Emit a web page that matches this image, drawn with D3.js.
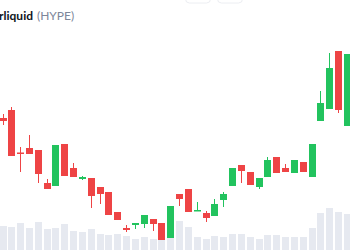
<!DOCTYPE html>
<html>
<head>
<meta charset="utf-8">
<script src="https://cdn.jsdelivr.net/npm/d3@7"></script>
<style>
  html, body { margin: 0; padding: 0; background: #fff; }
  svg { display: block; }
</style>
</head>
<body>
<svg id="chart" width="350" height="250"></svg>
<script>
const days = ["D01","D02","D03","D04","D05","D06","D07","D08","D09","D10",
              "D11","D12","D13","D14","D15","D16","D17","D18","D19","D20",
              "D21","D22","D23","D24","D25","D26","D27","D28","D29","D30",
              "D31","D32","D33","D34","D35","D36","D37","D38","D39","D40"];
const open  = [23.2,24.0,19.75,20.2,20.0,16.7,16.4,20.6,18.2,17.1,
               17.2,16.3,15.8,13.8,12.2,12.5,12.6,13.1,12.7,11.2,
               15.6,16.1,13.9,13.7,13.4,15.0,16.4,18.5,17.8,16.3,
               17.3,19.3,18.2,17.7,18.8,17.3,22.9,24.1,29.9,22.4];
const high  = [23.6,24.3,20.3,21.5,20.0,17.1,20.5,20.6,18.7,17.4,
               17.2,16.3,15.8,13.8,12.5,12.7,13.5,13.1,12.7,14.4,
               15.6,16.1,14.8,13.9,15.1,15.8,18.2,18.5,17.8,17.2,
               19.3,19.3,18.6,19.0,18.8,20.6,25.9,29.7,29.9,29.6];
const low   = [22.5,19.4,17.8,19.6,16.7,16.1,16.4,17.4,17.3,17.0,
               14.2,14.6,13.5,13.0,11.8,12.1,12.2,11.9,11.0,11.2,
               14.4,13.8,13.9,12.8,13.4,14.3,16.4,16.7,16.5,16.1,
               17.3,17.7,17.8,17.7,17.8,17.3,22.9,24.1,23.7,22.4];
const close = [22.9,19.4,19.65,19.6,17.6,16.1,20.5,17.4,17.3,17.3,
               15.4,15.6,13.5,13.0,12.0,12.7,13.5,12.6,11.0,14.4,
               15.1,13.8,14.0,13.2,14.6,15.6,18.2,17.9,16.5,17.2,
               19.0,17.7,17.8,19.0,17.8,20.6,24.7,28.2,24.0,29.6];
const volume = [24,23,27,22,28,21,22,26,19,18,
                21,16,15,16,14,11,13,11,13,15,
                29,23,13,11,14,13,16,16,13,11,
                15,15,13,13,13,22,37,42,38,36];
const coinName = "Hyperliquid";
const coinSymbol = "(HYPE)";

const svg = d3.select("#chart");
const UP = "#22c35e", DOWN = "#ee4445";

const x = d3.scalePoint().domain(days).range([2.5, 346.9]);
const bw = 7;
const y = d3.scaleLinear().domain([10, 30]).range([250, 50]);
const yv = d3.scaleLinear().domain([0, 50]).range([250, 200]);

const data = days.map((d, i) => ({d, o: open[i], h: high[i], l: low[i], c: close[i], v: volume[i]}));

// top faint buttons
svg.append("rect").attr("x", 185.5).attr("y", -12).attr("width", 25).attr("height", 15)
  .attr("rx", 4).attr("fill", "none").attr("stroke", "#eceef2");
svg.append("rect").attr("x", 217.5).attr("y", -12).attr("width", 25).attr("height", 15)
  .attr("rx", 4).attr("fill", "none").attr("stroke", "#eceef2");

// volume bars
svg.append("g").selectAll("rect").data(data).join("rect")
  .attr("x", d => Math.round(x(d.d)) + 0.5 - bw / 2)
  .attr("y", d => yv(d.v))
  .attr("width", bw)
  .attr("height", d => yv(0) - yv(d.v))
  .attr("fill", "#e6e9f0");

// wicks
svg.append("g").selectAll("line").data(data).join("line")
  .attr("x1", d => Math.round(x(d.d)) + 0.5)
  .attr("x2", d => Math.round(x(d.d)) + 0.5)
  .attr("y1", d => y(d.h))
  .attr("y2", d => y(d.l))
  .attr("stroke", d => d.c >= d.o ? UP : DOWN)
  .attr("stroke-width", 1);

// bodies
svg.append("g").selectAll("rect").data(data).join("rect")
  .attr("x", d => Math.round(x(d.d)) + 0.5 - bw / 2)
  .attr("y", d => y(Math.max(d.o, d.c)))
  .attr("width", bw)
  .attr("height", d => Math.max(1.5, Math.abs(y(d.o) - y(d.c))))
  .attr("fill", d => d.c >= d.o ? UP : DOWN);

// title
svg.append("text").attr("x", 33).attr("y", 20).attr("text-anchor", "end")
  .attr("font-family", "Lato, 'Noto Sans', sans-serif").attr("font-size", 12)
  .attr("font-weight", 700).attr("fill", "#0d1421").text(coinName);
svg.append("text").attr("x", 37).attr("y", 20)
  .attr("font-family", "Lato, 'Noto Sans', sans-serif").attr("font-size", 12)
  .attr("font-weight", 400).attr("fill", "#7d8699").text(coinSymbol);
</script>
</body>
</html>
